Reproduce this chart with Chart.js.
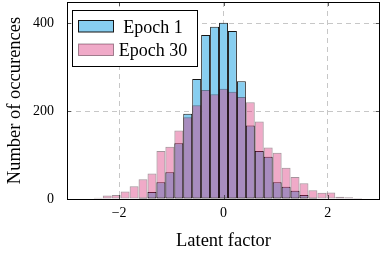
<!DOCTYPE html>
<html><head><meta charset="utf-8">
<script src="https://cdn.jsdelivr.net/npm/chart.js@4/dist/chart.umd.min.js"></script>
<style>html,body{margin:0;padding:0;background:#fff}#wrap{width:382px;height:256px;position:relative}</style>
</head><body><div id="wrap"><canvas id="c" width="382" height="256"></canvas></div>
<script>
// Histogram bin centres (35 bins over [-3, 3])
const binCenters = [-2.914,-2.743,-2.571,-2.400,-2.229,-2.057,-1.886,-1.714,-1.543,-1.371,
  -1.200,-1.029,-0.857,-0.686,-0.514,-0.343,-0.171,0.000,0.171,0.343,
  0.514,0.686,0.857,1.029,1.200,1.371,1.543,1.714,1.886,2.057,
  2.229,2.400,2.571,2.743,2.914];
const epoch1 = [0,0,0,0,0,0,0,1,3,16,
  38,61,127,194,273,373,392,401,382,268,
  167,109,96,38,28,19,9,3,1,1,
  0,0,0,0,0];
const epoch30 = [0,1,1,3,8,9,17,29,45,58,
  109,119,156,186,213,248,238,251,244,232,
  220,176,117,105,71,50,36,20,14,15,
  5,4,2,1,1];
const seriesLabels = ['Epoch 1', 'Epoch 30'];
const xTicks = [-2, 0, 2];
const yTicks = [0, 200, 400];

const SERIF = "'Liberation Serif','Times New Roman',serif";
const BLUE = 'rgb(135,206,240)';
const BLUE_EDGE = '#151515';
const PINK = 'rgba(217,42,117,0.4)';
const PINK_EDGE = 'rgba(40,0,20,0.42)';

const fmt = v => v < 0 ? '\u2212' + Math.abs(v) : String(v);

const framePlugin = {
  id: 'frame',
  afterDatasetsDraw(chart) {
    const {ctx, chartArea: a, scales: {x, y}} = chart;
    ctx.save();
    ctx.strokeStyle = '#333'; ctx.lineWidth = 0.8;
    ctx.beginPath();
    xTicks.forEach(v => {
      const px = Math.round(x.getPixelForValue(v)) + 0.5;
      ctx.moveTo(px, a.bottom); ctx.lineTo(px, a.bottom - 4);
      ctx.moveTo(px, a.top); ctx.lineTo(px, a.top + 4);
    });
    yTicks.forEach(v => {
      const py = Math.round(y.getPixelForValue(v)) + 0.5;
      ctx.moveTo(a.left, py); ctx.lineTo(a.left + 4, py);
      ctx.moveTo(a.right, py); ctx.lineTo(a.right - 4, py);
    });
    ctx.stroke();
    ctx.strokeStyle = '#000'; ctx.lineWidth = 1;
    ctx.strokeRect(a.left + 0.5, a.top + 0.5, a.width - 1, a.height);
    // legend
    const lx = a.left + 5.5, ly = a.top + 8.5, lw = 125, lh = 56;
    ctx.fillStyle = '#fff';
    ctx.fillRect(lx, ly, lw, lh);
    ctx.strokeStyle = '#000';
    ctx.strokeRect(lx, ly, lw, lh);
    const sx = a.left + 11.5, sW = 35, sH = 11.5;
    const rows = [a.top + 18.5, a.top + 42];
    ctx.fillStyle = BLUE; ctx.fillRect(sx, rows[0], sW, sH);
    ctx.strokeStyle = BLUE_EDGE; ctx.strokeRect(sx, rows[0], sW, sH);
    ctx.fillStyle = PINK; ctx.fillRect(sx, rows[1], sW, sH);
    ctx.strokeStyle = PINK_EDGE; ctx.strokeRect(sx, rows[1], sW, sH);
    ctx.fillStyle = '#000';
    ctx.font = "18px " + SERIF;
    ctx.textAlign = 'center'; ctx.textBaseline = 'alphabetic';
    ctx.fillText(seriesLabels[0], a.left + 86, a.top + 30.5);
    ctx.fillText(seriesLabels[1], a.left + 86, a.top + 53.5);
    ctx.restore();
  }
};

const data = {
  datasets: [
    {
      label: seriesLabels[1],
      data: binCenters.map((c, i) => ({x: c, y: epoch30[i]})),
      backgroundColor: PINK, borderColor: PINK_EDGE, borderWidth: 1,
      borderSkipped: false, inflateAmount: 0, grouped: false, order: 0,
      barPercentage: 1, categoryPercentage: 1
    },
    {
      label: seriesLabels[0],
      data: binCenters.map((c, i) => ({x: c, y: epoch1[i]})),
      backgroundColor: BLUE, borderColor: BLUE_EDGE, borderWidth: 1,
      borderSkipped: false, inflateAmount: 0, grouped: false, order: 1,
      barPercentage: 1, categoryPercentage: 1
    }
  ]
};

new Chart(document.getElementById('c'), {
  type: 'bar',
  data,
  options: {
    responsive: false, animation: false, devicePixelRatio: 1,
    layout: {padding: {top: 2, right: 2, left: 0, bottom: 0}},
    plugins: {legend: {display: false}, tooltip: {enabled: false}},
    scales: {
      x: {
        type: 'linear', min: -3, max: 3, offset: false,
        afterBuildTicks: s => { s.ticks = xTicks.map(v => ({value: v})); },
        afterFit: s => { s.height = 57; s.paddingLeft = 0; s.paddingRight = 0; },
        ticks: {callback: v => fmt(v), font: {family: SERIF, size: 14}, color: '#000', padding: 6, maxRotation: 0, autoSkip: false},
        grid: {color: 'rgba(0,0,0,0.28)', lineWidth: 0.8, drawTicks: false, offset: false},
        border: {display: false, dash: [5, 4]},
        title: {display: true, text: 'Latent factor', color: '#000', font: {family: SERIF, size: 18.5}, padding: {top: 0, bottom: 4}}
      },
      y: {
        type: 'linear', min: 0, max: 448,
        afterBuildTicks: s => { s.ticks = yTicks.map(v => ({value: v})); },
        afterFit: s => { s.width = 67; s.paddingTop = 0; s.paddingBottom = 0; },
        ticks: {callback: v => fmt(v), font: {family: SERIF, size: 14}, color: '#000', padding: 13},
        grid: {color: 'rgba(0,0,0,0.28)', lineWidth: 0.8, drawTicks: false},
        border: {display: false, dash: [5, 4]},
        title: {display: true, text: 'Number of occurences', color: '#000', font: {family: SERIF, size: 18.5}, padding: {top: 4, bottom: 0}}
      }
    }
  },
  plugins: [framePlugin]
});
</script></body></html>
